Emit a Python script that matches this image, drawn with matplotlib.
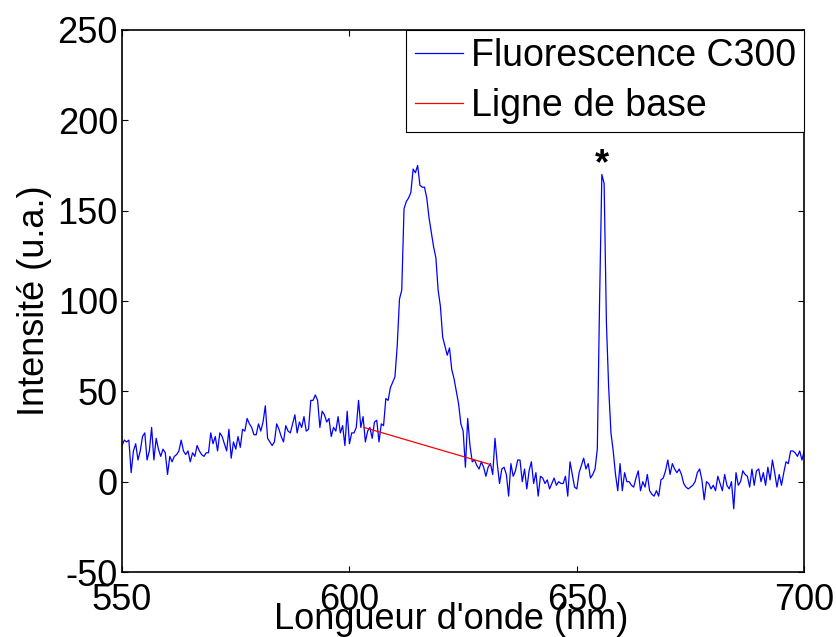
import numpy as np
import matplotlib
matplotlib.use("Agg")
import matplotlib.pyplot as plt

plt.rcParams['font.family'] = ['Liberation Sans', 'DejaVu Sans']
plt.rcParams['axes.unicode_minus'] = False

# spectre lu sur la figure, pas de 0.5 nm de 550 a 700 nm
wl_start, wl_end = 550, 700
intensite = [
    20, 23, 22, 23, 5, 17, 21, 12, 17, 25,
    27, 12, 17, 30, 12, 24, 18, 14, 18, 16,
    4, 14, 11, 14, 15, 17, 23, 17, 15, 17,
    11, 16, 14, 20, 17, 15, 14, 16, 16, 27,
    21, 25, 17, 27, 25, 21, 17, 29, 13, 22,
    18, 25, 19, 29, 28, 35, 32, 30, 26, 26,
    32, 28, 33, 42, 24, 22, 20, 22, 32, 29,
    25, 22, 31, 28, 27, 32, 37, 27, 33, 30,
    36, 28, 29, 45, 45, 48, 45, 30, 39, 37,
    33, 35, 25, 30, 28, 36, 27, 31, 20, 39,
    21, 27, 27, 30, 45, 30, 36, 22, 28, 30,
    24, 33, 34, 22, 32, 31, 46, 45, 52, 55,
    58, 75, 101, 106, 151, 155, 157, 160, 173, 171,
    175, 164, 163, 163, 157, 146, 138, 130, 124, 106,
    97, 80, 75, 70, 74, 62, 57, 50, 43, 32,
    28, 8, 35, 20, 11, 12, 9, 7, 11, 8,
    3, 8, 10, 4, 24, 10, -1, 7, 8, 4,
    -8, 10, 3, 6, 12, 12, 0, 7, -4, 6,
    11, -1, 5, -8, 3, 2, -1, 1, -4, -1,
    2, -2, 0, -1, -1, 3, -8, 11, 4, -3,
    -4, 5, 9, 13, 7, 10, 2, 4, 7, 18,
    100, 170, 165, 88, 52, 27, 17, 4, -5, 10,
    -5, 5, 0, 0, -2, -3, 2, 6, -5, 0,
    -3, 4, -5, -7, -8, -5, -8, 1, 2, 6,
    12, 4, 10, 7, 5, 7, 4, -1, -3, -4,
    -3, -2, 0, 5, 7, 1, -10, 0, -1, -4,
    -2, -5, 3, -1, -5, 4, -2, -4, 0, -15,
    5, -2, 0, 6, 4, 3, -3, 7, -2, 6,
    7, 0, 5, -2, 8, 1, 12, 5, -3, 4,
    -2, 5, 11, 10, 17, 17, 16, 14, 17, 12,
    17,
]
wl = np.linspace(wl_start, wl_end, len(intensite))

# ligne de base sous le pic de fluorescence
base_x = [603.2, 631.0]
base_y = [30.0, 9.5]

# raie marquee d'une etoile
raie_x, raie_y = 655.6, 170

fig = plt.figure(figsize=(8.36, 6.37), dpi=100)
ax = fig.add_axes([0.146, 0.102, 0.816, 0.851])

ax.plot(wl, intensite, color='#0000ff', lw=0.9, label='Fluorescence C300')
ax.plot(base_x, base_y, color='#ff0000', lw=0.9, label='Ligne de base')
ax.text(raie_x, raie_y, '*', fontsize=26, fontweight='bold',
        ha='center', va='baseline')

ax.set_xlim(550, 700)
ax.set_ylim(-50, 250)
ax.set_xticks([550, 600, 650, 700])
ax.set_yticks([-50, 0, 50, 100, 150, 200, 250])
ax.tick_params(direction='in', length=4, width=0.8, labelsize=26,
               top=True, right=True, pad=3)
ax.tick_params(axis='x', pad=8)
for s in ax.spines.values():
    s.set_linewidth(1.2)

ax.set_xlabel("Longueur d'onde (nm)", fontsize=26)
ax.xaxis.set_label_coords(0.482, -0.056)
ax.set_ylabel('Intensité (u.a.)', fontsize=26, labelpad=4)

leg = ax.legend(loc='upper right', fontsize=27, borderaxespad=0,
                handlelength=1.3, handletextpad=0.2, borderpad=0.22,
                labelspacing=0.36, fancybox=False, framealpha=1,
                edgecolor='black')
leg.get_frame().set_linewidth(0.8)

fig.savefig('out.png', dpi=100)
